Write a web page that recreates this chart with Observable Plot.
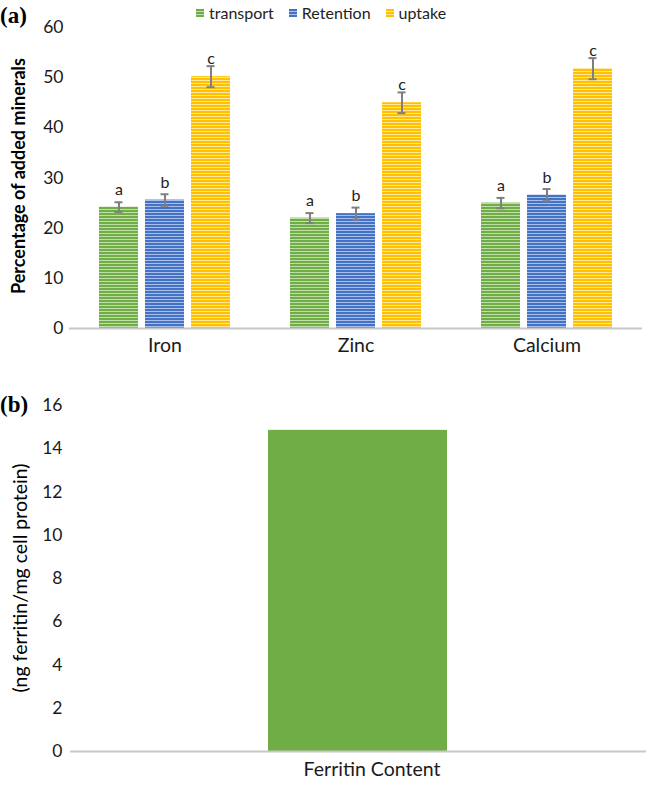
<!DOCTYPE html>
<html>
<head>
<meta charset="utf-8">
<script src="https://cdn.jsdelivr.net/npm/d3@7"></script>
<script src="https://cdn.jsdelivr.net/npm/@observablehq/plot@0.6"></script>
<style>
  body { margin: 0; background: #fff; }
  #root { position: relative; width: 646px; height: 785px; font-family: Lato, "Open Sans", sans-serif; color: #1a1a1a; overflow: hidden; }
  .panel-tag { position: absolute; left: 0; font: bold 23px "Liberation Serif", "DejaVu Serif", serif; color: #000; }
  .ytitle { position: absolute; transform: translate(-50%, -50%) rotate(-90deg); white-space: nowrap; color: #000; }
  #legend { position: absolute; top: 3px; left: 196px; display: flex; align-items: center; font-size: 16px; color: #222; }
  #legend .item { display: flex; align-items: center; margin-right: 15px; }
  #legend .sw { width: 8px; height: 8px; margin-right: 5px; }
  .chart { position: absolute; left: 0; }
</style>
</head>
<body>
<svg width="0" height="0" style="position:absolute">
  <defs>
    <pattern id="p-green" patternUnits="userSpaceOnUse" width="4" height="3">
      <rect width="4" height="3" fill="#70AD47"></rect><rect y="2" width="4" height="1" fill="#BFDEA9"></rect>
    </pattern>
    <pattern id="p-blue" patternUnits="userSpaceOnUse" width="4" height="3">
      <rect width="4" height="3" fill="#4472C4"></rect><rect y="2" width="4" height="1" fill="#A9BFE8"></rect>
    </pattern>
    <pattern id="p-gold" patternUnits="userSpaceOnUse" width="4" height="3">
      <rect width="4" height="3" fill="#FFC000"></rect><rect y="2" width="4" height="1" fill="#FFE69A"></rect>
    </pattern>
  </defs>
</svg>
<div id="root">
  <div id="chartA" class="chart" style="top:0"></div>
  <div id="chartB" class="chart" style="top:380px"></div>
  <div class="panel-tag" style="top:3px">(a)</div>
  <div class="panel-tag" style="top:392px">(b)</div>
  <div id="legend"></div>
  <div class="ytitle" style="left:18px; top:176px; font-weight:bold; font-size:18px;">Percentage of added minerals</div>
  <div class="ytitle" style="left:19px; top:578px; font-size:19.5px;">(ng ferritin/mg cell protein)</div>
</div>
<script>
// ---------- Data: panel (a) ----------
const minerals = ["Iron", "Zinc", "Calcium"];
const series = ["transport", "Retention", "uptake"];
const transport = [24.2, 22.0, 25.0];
const retention = [25.6, 22.9, 26.6];
const uptake = [50.2, 45.0, 51.8];
const transportErr = [0.96, 1.0, 1.03];
const retentionErr = [1.16, 1.2, 1.2];
const uptakeErr = [2.1, 2.06, 2.1];
const letters = ["a", "b", "c"];
const yTicksA = [0, 10, 20, 30, 40, 50, 60];

// ---------- Data: panel (b) ----------
const ferritinCategory = ["Ferritin Content"];
const ferritinValue = [14.85];
const yTicksB = [0, 2, 4, 6, 8, 10, 12, 14, 16];

// ---------- Styling ----------
const fills = {transport: "url(#p-green)", Retention: "url(#p-blue)", uptake: "url(#p-gold)"};
const errColor = "#7F7F7F";
const axisColor = "#C8C8C8";
const font = "Lato, 'Open Sans', sans-serif";

const values = [transport, retention, uptake];
const errs = [transportErr, retentionErr, uptakeErr];
const rows = minerals.flatMap((m, i) => series.map((s, j) => ({
  mineral: m, series: s, value: values[j][i], err: errs[j][i], letter: letters[j]
})));

const barMarks = series.map(s => Plot.barY(rows, {
  filter: d => d.series === s, fx: "mineral", x: "series", y: "value", fill: fills[s]
}));

const chartA = Plot.plot({
  width: 646,
  height: 370,
  marginLeft: 68,
  marginRight: 3,
  marginTop: 27,
  marginBottom: 42,
  style: {fontFamily: font, fontSize: "17.5px", color: "#1a1a1a", background: "transparent"},
  fx: {domain: minerals, padding: 0, axis: "bottom", tickSize: 0, tickPadding: 10, label: null},
  x: {domain: series, axis: null, paddingInner: 0.161, paddingOuter: 0.64},
  y: {domain: [0, 60], ticks: yTicksA, tickSize: 0, tickPadding: 6, label: null},
  marks: [
    ...barMarks,
    Plot.ruleY([0], {stroke: axisColor, strokeWidth: 2}),
    Plot.ruleX(rows, {fx: "mineral", x: "series", y1: d => d.value - d.err, y2: d => d.value + d.err, stroke: errColor, strokeWidth: 2}),
    Plot.tickY(rows, {fx: "mineral", x: "series", y: d => d.value + d.err, stroke: errColor, strokeWidth: 2, insetLeft: 15.5, insetRight: 15.5}),
    Plot.tickY(rows, {fx: "mineral", x: "series", y: d => d.value - d.err, stroke: errColor, strokeWidth: 2, insetLeft: 15.5, insetRight: 15.5}),
    Plot.text(rows, {fx: "mineral", x: "series", y: "value", text: "letter", dy: -17.5, fontSize: 16, fill: "#222"})
  ]
});
document.getElementById("chartA").appendChild(chartA);
d3.select(chartA).selectAll('[aria-label^="fx-axis"] text').attr("font-size", "19.5px");

const rowsB = ferritinCategory.map((c, i) => ({category: c, value: ferritinValue[i]}));
const chartB = Plot.plot({
  width: 646,
  height: 405,
  marginLeft: 70,
  marginRight: 0,
  marginTop: 25,
  marginBottom: 34,
  style: {fontFamily: font, fontSize: "17.5px", color: "#1a1a1a", background: "transparent"},
  x: {domain: ferritinCategory, padding: 0.524, tickSize: 0, tickPadding: 11, label: null},
  y: {domain: [0, 16], ticks: yTicksB, tickSize: 0, tickPadding: 8, label: null},
  marks: [
    Plot.barY(rowsB, {x: "category", y: "value", fill: "#70AD47"}),
    Plot.ruleY([0], {stroke: axisColor, strokeWidth: 2})
  ]
});
document.getElementById("chartB").appendChild(chartB);
d3.select(chartB).selectAll('[aria-label^="x-axis"] text').attr("font-size", "19.5px").attr("dx", 14);

// ---------- Legend ----------
const legend = d3.select("#legend");
series.forEach(s => {
  const item = legend.append("div").attr("class", "item");
  item.append("svg").attr("class", "sw").attr("width", 8).attr("height", 8)
    .append("rect").attr("width", 8).attr("height", 8).attr("fill", fills[s]);
  item.append("span").text(s);
});
</script>
</body>
</html>
